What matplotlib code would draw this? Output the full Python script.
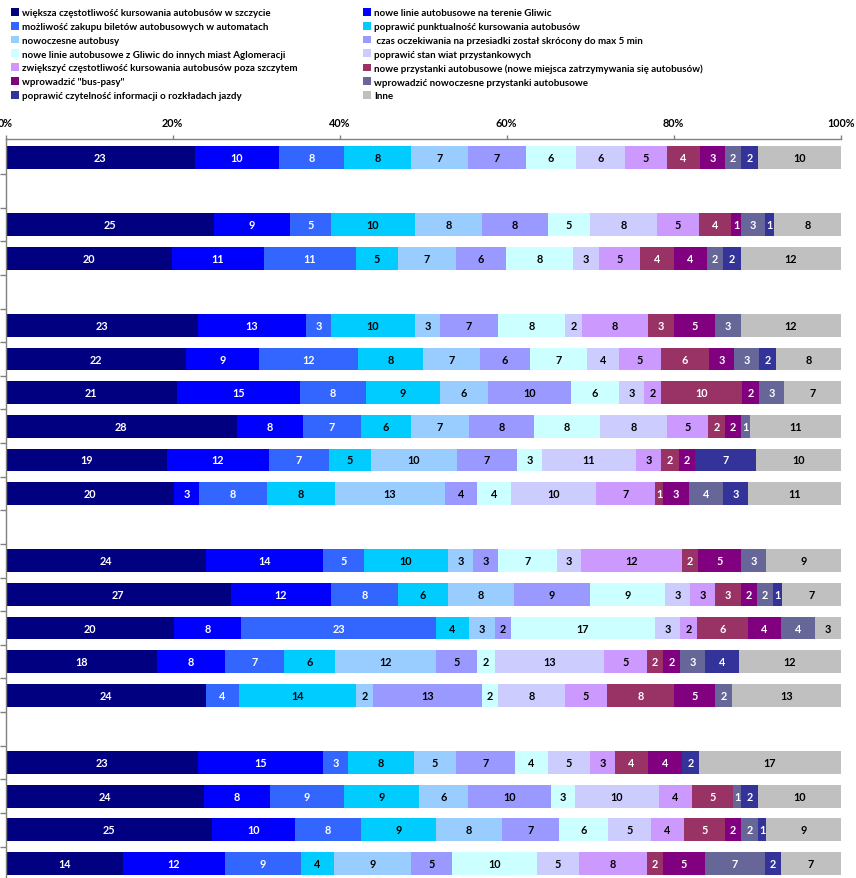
import matplotlib
matplotlib.use('Agg')
import matplotlib.pyplot as plt
from matplotlib.patches import Patch
import numpy as np

plt.rcParams['font.family'] = ['Lato', 'DejaVu Sans']

series_names = [
    'większa częstotliwość kursowania autobusów w szczycie',
    'nowe linie autobusowe na terenie Gliwic',
    'możliwość zakupu biletów autobusowych w automatach',
    'poprawić punktualność kursowania autobusów',
    'nowoczesne autobusy',
    ' czas oczekiwania na przesiadki został skrócony do max 5 min',
    'nowe linie autobusowe z Gliwic do innych miast Aglomeracji',
    'poprawić stan wiat przystankowych',
    'zwiększyć częstotliwość kursowania autobusów poza szczytem',
    'nowe przystanki autobusowe (nowe miejsca zatrzymywania się autobusów)',
    'wprowadzić "bus-pasy"',
    'wprowadzić nowoczesne przystanki autobusowe',
    'poprawić czytelność informacji o rozkładach jazdy',
    'Inne',
]
colors = ['#000080', '#0000FF', '#3366FF', '#00CCFF', '#99CCFF', '#9999FF', '#CCFFFF',
          '#CCCCFF', '#CC99FF', '#993366', '#800080', '#666699', '#333399', '#C0C0C0']
dark = {'#000080', '#0000FF', '#3366FF', '#993366', '#800080', '#666699', '#333399'}

# bars grouped (an empty row separates groups)
group_sizes = [1, 2, 6, 5, 4]

v_szczyt = [22.67, 24.95, 19.92, 23.03, 21.55, 20.51, 27.70, 19.32, 20.16, 23.99, 26.98, 20.16, 18.12, 23.99, 23.03, 23.75, 24.71, 14.05]
v_nowe_linie = [10.06, 9.10, 11.01, 12.93, 8.79, 14.73, 7.90, 12.21, 2.99, 14.01, 11.98, 8.02, 8.14, 0, 14.97, 7.90, 9.94, 12.21]
v_automaty = [7.78, 4.91, 11.02, 3.00, 11.85, 7.90, 6.95, 7.19, 8.14, 4.91, 8.02, 23.35, 7.07, 3.95, 3.00, 8.86, 7.90, 9.10]
v_punktualnosc = [8.03, 10.06, 5.03, 10.06, 7.79, 8.87, 5.99, 5.03, 8.15, 10.06, 5.99, 3.96, 6.11, 14.01, 7.90, 8.98, 8.98, 3.96]
v_nowoczesne_autobusy = [6.83, 8.02, 6.95, 2.99, 6.82, 5.75, 6.95, 10.30, 13.17, 2.99, 7.90, 3.11, 12.09, 2.04, 5.03, 5.88, 7.91, 9.22]
v_przesiadki = [6.94, 7.91, 5.99, 6.95, 5.99, 9.94, 7.78, 7.18, 3.83, 3.00, 9.11, 1.91, 4.91, 13.05, 7.06, 9.94, 6.82, 4.91]
v_linie_aglomeracja = [5.99, 5.03, 8.02, 8.02, 6.83, 5.75, 7.90, 3.00, 4.07, 7.06, 8.98, 17.25, 2.16, 1.92, 3.96, 2.87, 5.87, 10.18]
v_wiaty = [5.87, 8.02, 3.11, 2.04, 3.83, 2.99, 8.03, 11.25, 10.18, 2.88, 2.99, 2.99, 13.05, 8.02, 5.03, 10.06, 5.15, 5.03]
v_poza_szczytem = [5.03, 5.03, 4.91, 7.90, 5.03, 2.04, 4.91, 3.00, 7.07, 12.09, 3.00, 2.04, 5.15, 5.03, 2.99, 3.95, 3.95, 8.14]
v_nowe_przystanki = [3.95, 3.83, 4.08, 3.12, 5.75, 9.70, 2.03, 2.15, 0.96, 1.92, 3.11, 6.11, 1.92, 8.03, 3.95, 4.91, 4.91, 1.92]
v_bus_pasy = [2.99, 1.20, 3.95, 4.91, 2.99, 2.04, 1.92, 1.92, 3.11, 5.15, 1.92, 3.95, 2.03, 4.91, 4.07, 0, 1.92, 5.03]
v_nowoczesne_przystanki = [1.92, 2.87, 1.91, 3.11, 3.00, 2.99, 1.08, 0, 4.07, 2.99, 1.91, 4.07, 3.00, 2.03, 0, 0.96, 2.04, 7.18]
v_czytelnosc = [2.04, 1.08, 2.16, 0, 2.03, 0, 0, 7.31, 3.00, 0, 1.08, 0, 4.07, 0, 2.04, 2.04, 0.95, 1.92]
v_inne = [9.90, 7.99, 11.94, 11.94, 7.75, 6.79, 10.86, 10.14, 11.10, 8.95, 7.03, 3.08, 12.18, 13.02, 16.97, 9.90, 8.95, 7.15]

series = [v_szczyt, v_nowe_linie, v_automaty, v_punktualnosc, v_nowoczesne_autobusy,
          v_przesiadki, v_linie_aglomeracja, v_wiaty, v_poza_szczytem, v_nowe_przystanki,
          v_bus_pasy, v_nowoczesne_przystanki, v_czytelnosc, v_inne]

x_ticks = [0, 20, 40, 60, 80, 100]

# row positions
rows = []
p = 0
for g in group_sizes:
    for i in range(g):
        rows.append(p)
        p += 1
    p += 1
last_row = p - 2
rows = np.array(rows)

data = np.array(series, dtype=float)
totals = data.sum(axis=0)
pct = data / totals * 100

fig = plt.figure(figsize=(8.56, 8.79), dpi=100)
ax = fig.add_axes([5.67 / 856, 1 - 883 / 879, 835 / 856, (883 - 139.7) / 879])

left = np.zeros(len(rows))
handles = []
for k, (name, col) in enumerate(zip(series_names, colors)):
    vals = pct[k]
    ax.barh(rows, vals, left=left, height=0.675, color=col, edgecolor='none')
    tc = 'white' if col in dark else 'black'
    for r, l, v in zip(rows, left, vals):
        if v > 0:
            ax.text(l + v / 2, r, str(int(np.floor(v + 0.5))), ha='center', va='center',
                    fontsize=7.8, fontweight='bold', color=tc)
    left = left + vals
    handles.append(Patch(facecolor=col, edgecolor='none', label=name))

ax.set_xlim(0, 100)
ax.set_ylim(last_row + 0.553, -0.553)
ax.xaxis.tick_top()
ax.set_xticks(x_ticks)
ax.set_xticklabels([f'{t}%' for t in x_ticks], fontsize=7.8, fontweight='bold')
ax.tick_params(axis='x', length=3, width=1, color='#808080', pad=5)
ax.set_yticks(np.arange(0, last_row) + 0.5)
ax.set_yticklabels([])
ax.tick_params(axis='y', length=4, width=1, color='#808080')
for s in ['right', 'bottom']:
    ax.spines[s].set_visible(False)
for s in ['left', 'top']:
    ax.spines[s].set_color('#808080')
    ax.spines[s].set_linewidth(1)

leg_kw = dict(frameon=False, prop={'weight': 'bold', 'size': 7},
              handlelength=0.85, handleheight=0.85, handletextpad=0.3,
              labelspacing=0.47, borderpad=0, borderaxespad=0)
l1 = fig.legend(handles=handles[0::2], loc='upper left',
                bbox_to_anchor=(11 / 856, 1 - 9 / 879), **leg_kw)
l2 = fig.legend(handles=handles[1::2], loc='upper left',
                bbox_to_anchor=(363 / 856, 1 - 9 / 879), **leg_kw)

fig.savefig('out.png', dpi=100)
